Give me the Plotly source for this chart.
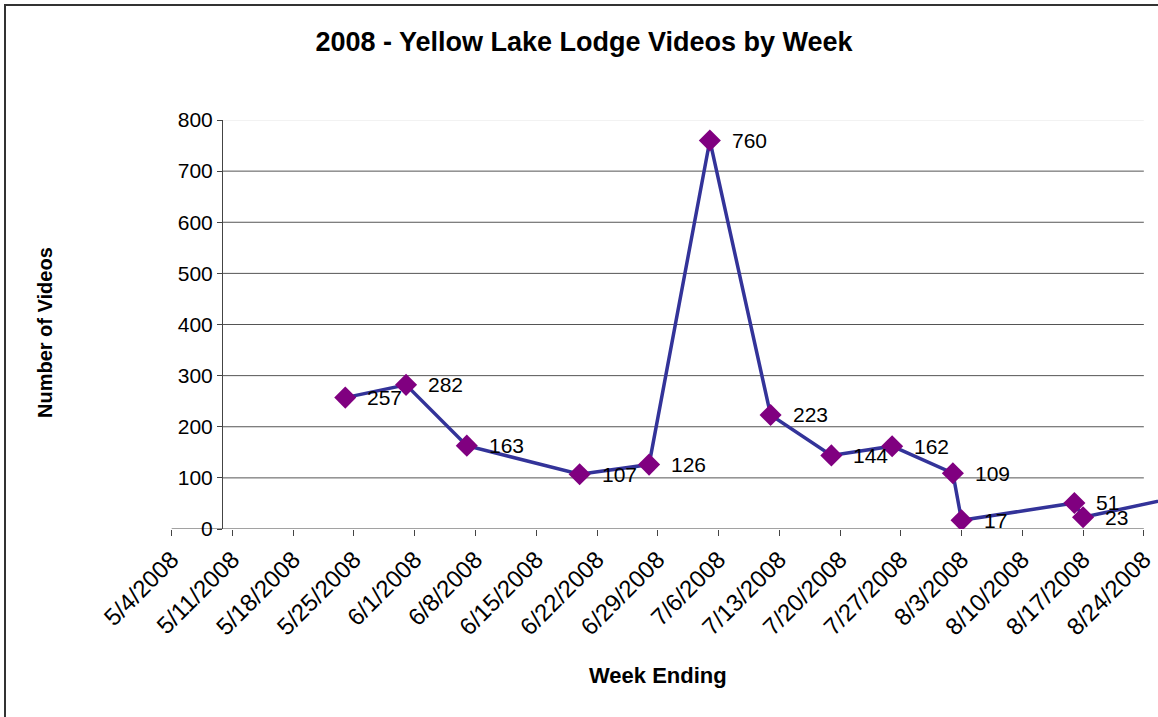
import plotly.graph_objects as go
from datetime import datetime, timedelta

# ---- data ----
dates = ["2008-05-24", "2008-05-31", "2008-06-07", "2008-06-20", "2008-06-28",
         "2008-07-05", "2008-07-12", "2008-07-19", "2008-07-26", "2008-08-02",
         "2008-08-03", "2008-08-16", "2008-08-17", "2008-08-30"]
videos = [257, 282, 163, 107, 126, 760, 223, 144, 162, 109, 17, 51, 23, 70]
tick_labels = ["5/4/2008", "5/11/2008", "5/18/2008", "5/25/2008", "6/1/2008",
               "6/8/2008", "6/15/2008", "6/22/2008", "6/29/2008", "7/6/2008",
               "7/13/2008", "7/20/2008", "7/27/2008", "8/3/2008", "8/10/2008",
               "8/17/2008", "8/24/2008"]
y_ticks = [0, 100, 200, 300, 400, 500, 600, 700, 800]

title = "2008 - Yellow Lake Lodge Videos by Week"
x_title = "Week Ending"
y_title = "Number of Videos"

# ---- layout constants (pixels) ----
W, H = 1158, 717
ML, MR, MT, MB = 163, 0, 120, 188
PW, PH = W - ML - MR, H - MT - MB
PX_PER_DAY = 8.68
R0 = datetime(2008, 5, 3)
R1 = R0 + timedelta(days=PW / PX_PER_DAY)
Y_AXIS_PX = 222

FONT = "Liberation Sans, Arial, sans-serif"

def px_to_paper_x(px):
    return (px - ML) / PW

def px_to_paper_y(py):
    return (H - MB - py) / PH

tick_vals = [datetime.strptime(t, "%m/%d/%Y") for t in tick_labels]
cross_date = R0 + timedelta(days=(Y_AXIS_PX - ML) / PX_PER_DAY)

fig = go.Figure()
fig.add_trace(go.Scatter(
    x=dates, y=videos, mode="lines+markers",
    line=dict(color="#333399", width=3.5),
    marker=dict(symbol="diamond", size=17, color="#800080", line=dict(width=0)),
    hoverinfo="x+y", showlegend=False,
))

shapes = []
for v in y_ticks[1:]:
    shapes.append(dict(type="line", xref="x", yref="y",
                       x0=cross_date, x1=tick_vals[-1], y0=v, y1=v,
                       line=dict(color="#e6e6e6" if v == y_ticks[-1] else "#555555", width=1),
                       layer="below"))
# x axis line
shapes.append(dict(type="line", xref="x", yref="y",
                   x0=tick_vals[0], x1=tick_vals[-1], y0=0, y1=0,
                   line=dict(color="#444444", width=1), layer="below"))
# chart border
shapes.append(dict(type="rect", xref="paper", yref="paper",
                   x0=px_to_paper_x(5), x1=px_to_paper_x(W + 20),
                   y0=px_to_paper_y(H + 20), y1=px_to_paper_y(5),
                   line=dict(color="#333333", width=2), fillcolor="rgba(0,0,0,0)",
                   layer="above"))

annotations = []
r1_str = R1.strftime("%Y-%m-%d")
for d, v in zip(dates, videos):
    if d > r1_str:
        continue
    annotations.append(dict(x=d, y=v, xref="x", yref="y", text=str(v),
                            showarrow=False, xanchor="left", yanchor="middle",
                            xshift=20, font=dict(family=FONT, size=21, color="#000")))
annotations.append(dict(x=px_to_paper_x(45), y=px_to_paper_y(333), xref="paper", yref="paper",
                        text="<b>" + y_title + "</b>", textangle=-90, showarrow=False,
                        xanchor="center", yanchor="middle",
                        font=dict(family=FONT, size=20, color="#000")))
annotations.append(dict(x=px_to_paper_x(658), y=px_to_paper_y(675), xref="paper", yref="paper",
                        text="<b>" + x_title + "</b>", showarrow=False,
                        xanchor="center", yanchor="middle",
                        font=dict(family=FONT, size=22, color="#000")))

fig.update_layout(
    width=W, height=H,
    margin=dict(l=ML, r=MR, t=MT, b=MB, pad=0),
    paper_bgcolor="white", plot_bgcolor="white",
    title=dict(text="<b>" + title + "</b>", x=584 / W, y=1 - 42 / H,
               xanchor="center", yanchor="middle",
               font=dict(family=FONT, size=27, color="#000")),
    xaxis=dict(type="date", range=[R0, R1], tickvals=tick_vals, ticktext=tick_labels,
               tickangle=-45, ticks="outside", ticklen=6, tickcolor="#444444",
               showgrid=False, showline=False, zeroline=False,
               tickfont=dict(family=FONT, size=24, color="#000")),
    yaxis=dict(range=[0, 800], tickvals=y_ticks, showgrid=False, zeroline=False,
               showline=True, linecolor="#444444", linewidth=1,
               ticks="outside", ticklen=5, tickcolor="#444444",
               anchor="free", position=px_to_paper_x(Y_AXIS_PX),
               tickfont=dict(family=FONT, size=21, color="#000")),
    shapes=shapes, annotations=annotations,
)

fig.write_html("out.html", config={"displayModeBar": False},
               post_script="document.body.style.margin='0';document.body.style.overflow='hidden';")
